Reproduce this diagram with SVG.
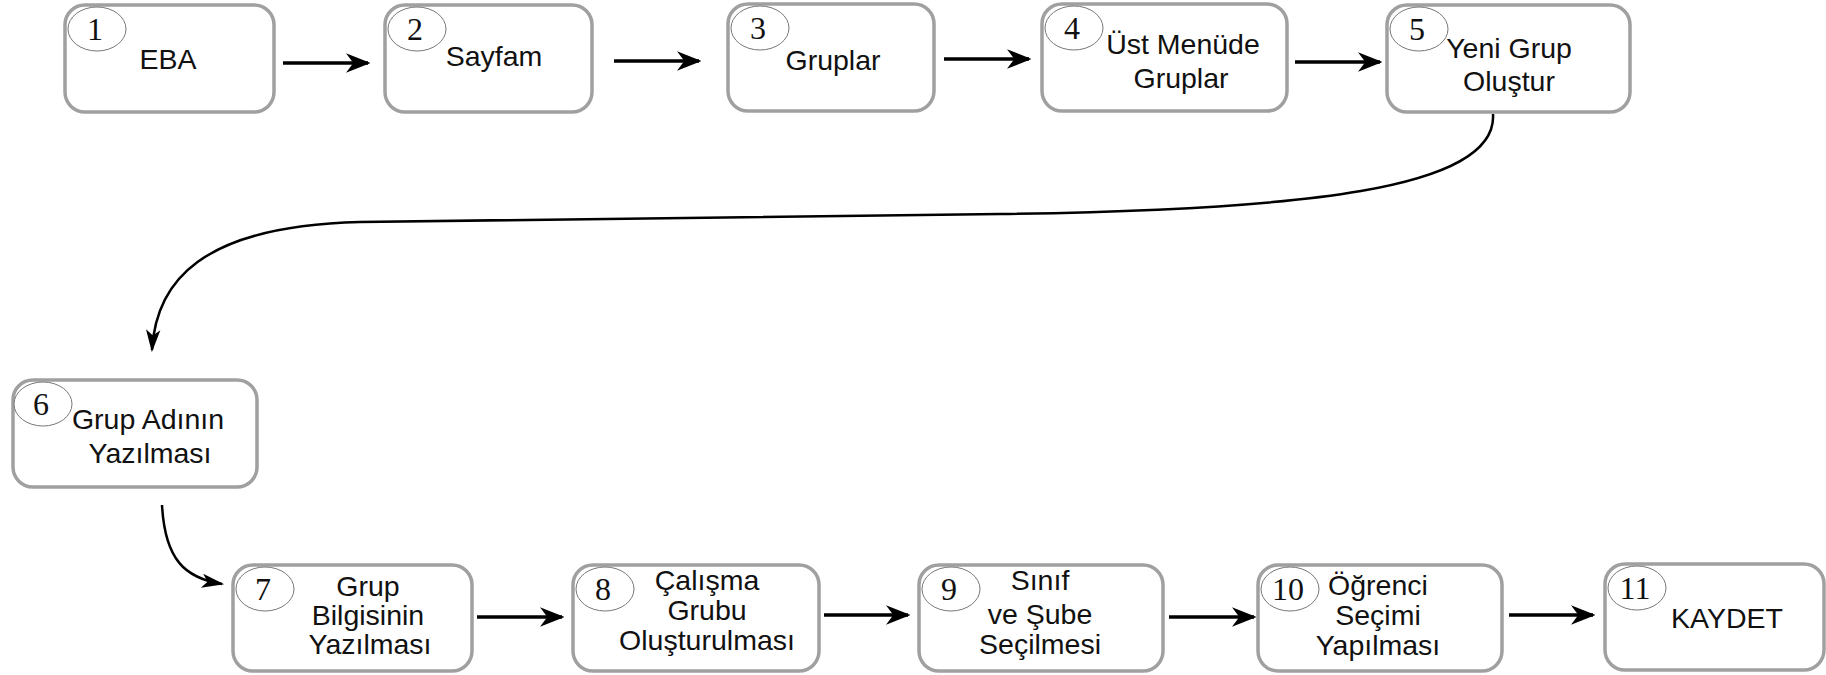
<svg xmlns="http://www.w3.org/2000/svg" width="1826" height="675" viewBox="0 0 1826 675">
<defs>
<style>
.box{fill:#fff;stroke:#a0a0a0;stroke-width:3.5}
.num{fill:#fff;stroke:#777;stroke-width:1}
.nt{font-family:"Liberation Serif","Times New Roman",serif;font-size:32px;fill:#111;text-anchor:middle}
.lb{font-family:"Liberation Sans",Arial,sans-serif;font-size:28.5px;fill:#111;text-anchor:middle}
.ar{fill:none;stroke:#000;stroke-width:3.5;marker-end:url(#ah)}
.cv{fill:none;stroke:#000;stroke-width:2.5;marker-end:url(#ah2)}
</style>
<marker id="ah" viewBox="0 0 10 10" refX="9" refY="5" markerWidth="7" markerHeight="7" orient="auto" markerUnits="strokeWidth">
<path d="M0,1 L10,5 L0,9 L3,5 Z" fill="#000"/>
</marker>
<marker id="ah2" viewBox="0 0 10 10" refX="9" refY="5" markerWidth="9" markerHeight="9" orient="auto" markerUnits="strokeWidth">
<path d="M0,1.8 L10,5 L0,8.2 L2.5,5 Z" fill="#000"/>
</marker>
</defs>
<rect width="1826" height="675" fill="#fff"/>
<g id="connectors">
<path class="ar" d="M283,63 L368,63"/>
<path class="ar" d="M614,61 L699,61"/>
<path class="ar" d="M944,59 L1029,59"/>
<path class="ar" d="M1295,62 L1380,62"/>
<path class="cv" d="M1493,114 C1498,190 1300,210 1000,214 L360,222 C200,226 156,282 152,350"/>
<path class="cv" d="M162,505 C165,560 185,578 222,584"/>
<path class="ar" d="M477,617 L562,617"/>
<path class="ar" d="M824,615 L908,615"/>
<path class="ar" d="M1169,617 L1254,617"/>
<path class="ar" d="M1509,615 L1593,615"/>
</g>
<g id="n1"><rect class="box" x="65" y="5" width="209" height="107" rx="20"/><ellipse class="num" cx="97" cy="29" rx="29" ry="22"/><text class="nt" x="95" y="40">1</text><text class="lb" x="168" y="69">EBA</text></g>
<g id="n2"><rect class="box" x="385" y="5" width="207" height="107" rx="20"/><ellipse class="num" cx="417" cy="29" rx="29" ry="22"/><text class="nt" x="415" y="40">2</text><text class="lb" x="494" y="66">Sayfam</text></g>
<g id="n3"><rect class="box" x="728" y="4" width="206" height="107" rx="20"/><ellipse class="num" cx="760" cy="28" rx="29" ry="22"/><text class="nt" x="758" y="39">3</text><text class="lb" x="833" y="70">Gruplar</text></g>
<g id="n4"><rect class="box" x="1042" y="4" width="245" height="107" rx="20"/><ellipse class="num" cx="1074" cy="28" rx="29" ry="22"/><text class="nt" x="1072" y="39">4</text><text class="lb" x="1183" y="54">Üst Menüde</text><text class="lb" x="1181" y="88">Gruplar</text></g>
<g id="n5"><rect class="box" x="1387" y="5" width="243" height="107" rx="20"/><ellipse class="num" cx="1419" cy="29" rx="29" ry="22"/><text class="nt" x="1417" y="40">5</text><text class="lb" x="1509" y="58">Yeni Grup</text><text class="lb" x="1509" y="91">Oluştur</text></g>
<g id="n6"><rect class="box" x="13" y="380" width="244" height="107" rx="20"/><ellipse class="num" cx="43" cy="404" rx="29" ry="22"/><text class="nt" x="41" y="415">6</text><text class="lb" x="148" y="429">Grup Adının</text><text class="lb" x="150" y="463">Yazılması</text></g>
<g id="n7"><rect class="box" x="233" y="565" width="239" height="106" rx="20"/><ellipse class="num" cx="265" cy="589" rx="29" ry="22"/><text class="nt" x="263" y="600">7</text><text class="lb" x="368" y="596">Grup</text><text class="lb" x="368" y="625">Bilgisinin</text><text class="lb" x="370" y="654">Yazılması</text></g>
<g id="n8"><rect class="box" x="573" y="565" width="246" height="106" rx="20"/><ellipse class="num" cx="605" cy="589" rx="29" ry="22"/><text class="nt" x="603" y="600">8</text><text class="lb" x="707" y="590">Çalışma</text><text class="lb" x="707" y="620">Grubu</text><text class="lb" x="707" y="650">Oluşturulması</text></g>
<g id="n9"><rect class="box" x="919" y="565" width="244" height="106" rx="20"/><ellipse class="num" cx="951" cy="589" rx="29" ry="22"/><text class="nt" x="949" y="600">9</text><text class="lb" x="1040" y="590">Sınıf</text><text class="lb" x="1040" y="624">ve Şube</text><text class="lb" x="1040" y="654">Seçilmesi</text></g>
<g id="n10"><rect class="box" x="1258" y="565" width="244" height="106" rx="20"/><ellipse class="num" cx="1290" cy="589" rx="29" ry="22"/><text class="nt" x="1288" y="600">10</text><text class="lb" x="1378" y="595">Öğrenci</text><text class="lb" x="1378" y="625">Seçimi</text><text class="lb" x="1378" y="655">Yapılması</text></g>
<g id="n11"><rect class="box" x="1605" y="564" width="219" height="106" rx="20"/><ellipse class="num" cx="1637" cy="588" rx="29" ry="22"/><text class="nt" x="1635" y="599">11</text><text class="lb" x="1727" y="628">KAYDET</text></g>
</svg>
